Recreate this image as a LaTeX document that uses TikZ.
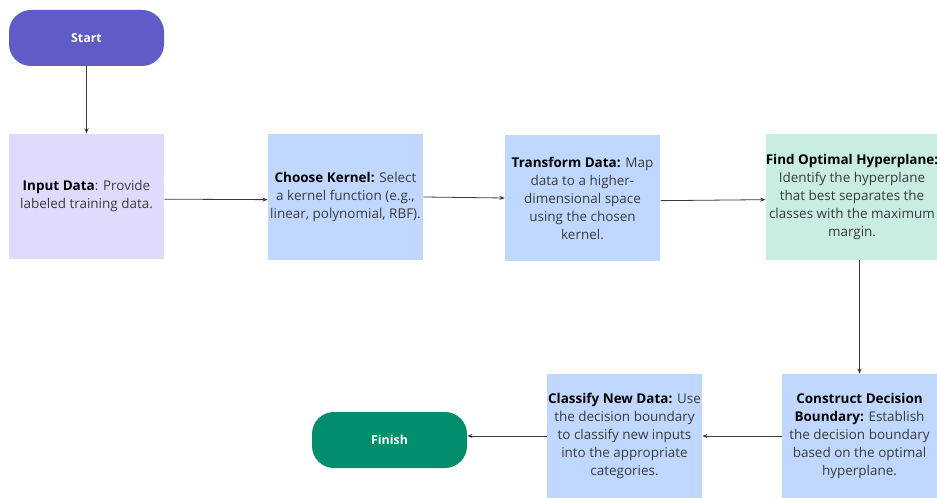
\documentclass[tikz,border=0pt]{standalone}
\usepackage{fontspec}
\setmainfont{Open Sans}
\usetikzlibrary{arrows.meta}
\definecolor{startc}{HTML}{5E5CC7}
\definecolor{finishc}{HTML}{028E6C}
\definecolor{lavc}{HTML}{E0DBFD}
\definecolor{bluec}{HTML}{C0D8FF}
\definecolor{mintc}{HTML}{C9EDE3}
\definecolor{txtc}{HTML}{3A3A3A}
\tikzset{
  terminal/.style={fill=#1, rounded corners=16.5pt, minimum width=116.25pt,
    minimum height=42pt, inner sep=0pt, text=white, font=\fontsize{9.3}{12}\selectfont\bfseries},
  stepbox/.style={fill=#1, minimum width=116.25pt, minimum height=94pt,
    inner sep=0pt, align=center, text=txtc, font=\fontsize{10.1}{13.5}\selectfont},
  flow/.style={draw=txtc, line width=0.6pt, -{Stealth[length=4pt,width=3pt]}}
}
\begin{document}
\begin{tikzpicture}[x=0.75pt, y=-0.75pt]
  \useasboundingbox (0,0) rectangle (937,498);
  \node[terminal=startc] (start) at (86.5,38) {Start};
  \node[stepbox=lavc] (input) at (86.5,196.5)
    {\textcolor{black}{\textbf{Input Data}}: Provide\\labeled training data.};
  \node[stepbox=bluec] (kernel) at (345.5,197)
    {\textcolor{black}{\textbf{Choose Kernel:}} Select\\a kernel function (e.g.,\\linear, polynomial, RBF).};
  \node[stepbox=bluec] (transform) at (582.5,198)
    {\textcolor{black}{\textbf{Transform Data:}} Map\\data to a higher-\\dimensional space\\using the chosen\\kernel.};
  \node[stepbox=mintc, minimum width=127.5pt] (hyper) at (852,197)
    {\textcolor{black}{\textbf{Find Optimal Hyperplane:}}\\Identify the hyperplane\\that best separates the\\classes with the maximum\\margin.};
  \node[stepbox=bluec, minimum height=93pt] (boundary) at (859.5,436)
    {\textcolor{black}{\textbf{Construct Decision}}\\\textcolor{black}{\textbf{Boundary:}} Establish\\the decision boundary\\based on the optimal\\hyperplane.};
  \node[stepbox=bluec, minimum height=93pt] (classify) at (624.5,436)
    {\textcolor{black}{\textbf{Classify New Data:}} Use\\the decision boundary\\to classify new inputs\\into the appropriate\\categories.};
  \node[terminal=finishc] (finish) at (389.5,440) {Finish};

  \draw[flow] (start) -- (input);
  \draw[flow] ([yshift=-2pt]input.east) -- ([yshift=-2pt]kernel.west);
  \draw[flow] (kernel.east) -- (transform.west);
  \draw[flow] ([yshift=-2pt]transform.east) -- ([yshift=-2pt]hyper.west);
  \draw[flow] (boundary.north |- hyper.south) -- (boundary.north);
  \draw[flow] (boundary.west) -- (classify.east);
  \draw[flow] (classify.west) -- (finish.east |- classify.west);
\end{tikzpicture}
\end{document}
